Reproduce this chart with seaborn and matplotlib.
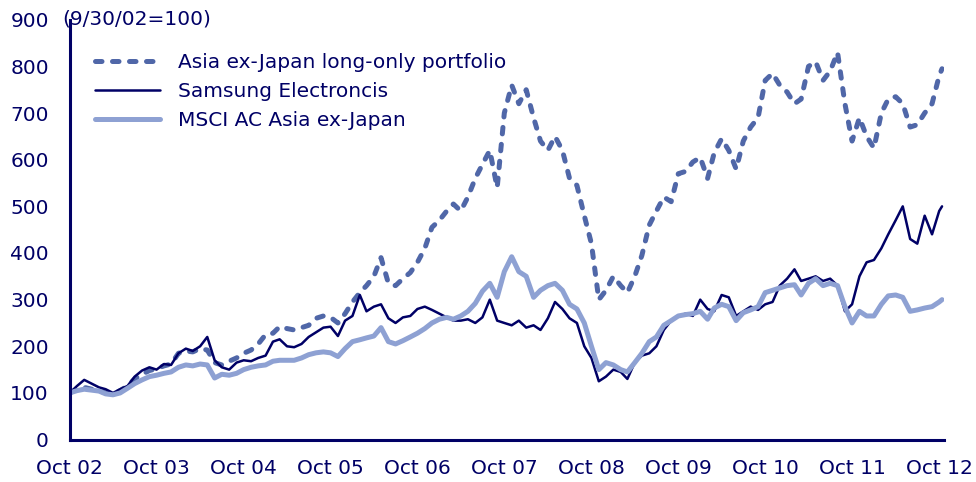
import matplotlib
matplotlib.use("Agg")
import matplotlib.pyplot as plt
import seaborn as sns
import pandas as pd

# month-end readings, Sep 02 .. Sep 12, plus last point mid Oct 12
portfolio = [100, 108, 112, 108, 105, 100, 98, 105, 115, 130, 140, 148,
             152, 158, 162, 185, 190, 188, 195, 192, 165, 160, 168, 175,
             185, 192, 205, 225, 228, 242, 238, 235, 240, 245, 260, 265,
             262, 250, 270, 295, 315, 330, 350, 390, 335, 330, 345, 358,
             380, 410, 455, 470, 490, 505, 490, 520, 560, 590, 620, 540,
             700, 760, 720, 750, 690, 640, 620, 650, 620, 560, 545, 480,
             420, 300, 320, 350, 330, 315, 350, 395, 460, 490, 520, 510,
             570, 575, 595, 605, 560, 615, 645, 620, 580, 640, 670, 690,
             770, 785, 760, 745, 720, 730, 800, 810, 770, 790, 830, 720,
             640, 690, 650, 625, 700, 730, 735, 720, 670, 675, 700, 720,
             780, 795]
samsung = [100, 115, 128, 120, 112, 108, 100, 108, 115, 135, 148, 155,
           150, 162, 160, 185, 195, 190, 200, 220, 170, 155, 150, 165,
           170, 168, 175, 180, 210, 215, 200, 198, 205, 220, 230, 240,
           242, 222, 255, 265, 310, 275, 285, 290, 260, 250, 262, 265,
           280, 285, 278, 270, 262, 255, 255, 258, 250, 262, 300, 255,
           250, 245, 255, 240, 245, 235, 260, 295, 280, 260, 250, 200,
           175, 125, 135, 150, 145, 130, 165, 180, 185, 200, 235, 255,
           265, 270, 265, 300, 280, 275, 310, 305, 265, 275, 285, 278,
           290, 295, 330, 345, 365, 340, 345, 350, 340, 345, 330, 275,
           290, 350, 380, 385, 410, 440, 470, 500, 430, 420, 480, 440,
           490, 500]
msci = [100, 105, 108, 106, 104, 98, 96, 100, 110, 120, 128, 135,
        138, 142, 145, 155, 160, 158, 162, 160, 132, 140, 138, 142,
        150, 155, 158, 160, 168, 170, 170, 170, 175, 182, 186, 188,
        186, 178, 195, 210, 214, 218, 222, 240, 210, 205, 212, 220,
        228, 238, 250, 258, 262, 258, 265, 275, 292, 318, 335, 305,
        360, 392, 360, 350, 305, 320, 330, 335, 320, 290, 280, 250,
        200, 150, 165, 160, 150, 145, 165, 185, 210, 220, 245, 255,
        265, 268, 270, 275, 258, 282, 290, 285, 255, 272, 278, 285,
        315, 320, 325, 330, 332, 310, 335, 345, 330, 335, 330, 285,
        250, 275, 265, 265, 290, 308, 310, 305, 275, 278, 282, 285,
        295, 300]
labels = ["Asia ex-Japan long-only portfolio", "Samsung Electroncis",
          "MSCI AC Asia ex-Japan"]
tick_labels = ["Oct 02", "Oct 03", "Oct 04", "Oct 05", "Oct 06", "Oct 07",
               "Oct 08", "Oct 09", "Oct 10", "Oct 11", "Oct 12"]

dates = list(pd.date_range("2002-09-30", periods=121, freq="ME")) + [pd.Timestamp("2012-10-12")]
df = pd.DataFrame({"date": dates, "portfolio": portfolio,
                   "samsung": samsung, "msci": msci})

navy = "#000066"
sns.set_style("white")
plt.rcParams["font.family"] = ["DejaVu Sans"]

fig = plt.figure(figsize=(9.76, 4.82), dpi=100)
ax = fig.add_axes([0.0714, 0.088, 0.896, 0.871])

sns.lineplot(data=df, x="date", y="portfolio", ax=ax, color="#5067A8",
             linewidth=3.6, label=labels[0], dash_capstyle="round")
ax.lines[-1].set_dashes((1.3, 2.1))
sns.lineplot(data=df, x="date", y="samsung", ax=ax, color=navy,
             linewidth=1.8, label=labels[1])
sns.lineplot(data=df, x="date", y="msci", ax=ax, color="#8EA1D3",
             linewidth=3.6, label=labels[2], solid_capstyle="round")

ax.set_ylim(0, 900)
ax.set_yticks(range(0, 901, 100))
ax.set_xlim(pd.Timestamp("2002-09-30"), pd.Timestamp("2012-10-21"))
ax.set_xticks(pd.date_range("2002-09-30", periods=11, freq="12ME"))
ax.set_xticklabels(tick_labels)
ax.set_xlabel("")
ax.set_ylabel("")

for side in ["top", "right"]:
    ax.spines[side].set_visible(False)
for side in ["left", "bottom"]:
    ax.spines[side].set_color(navy)
    ax.spines[side].set_linewidth(2.2)
ax.tick_params(axis="both", colors=navy, labelsize=14.5, direction="out",
               length=5, width=1.8, labelcolor=navy)
ax.tick_params(axis="y", pad=10)
ax.tick_params(axis="x", pad=9)

fig.text(62 / 976, 1 - 19 / 482, "(9/30/02=100)", color=navy, fontsize=14.5,
         va="center", ha="left")

leg = ax.legend(loc="upper left", bbox_to_anchor=(0.02, 0.94), frameon=False,
                fontsize=14.5, handlelength=3.2, handletextpad=0.9,
                labelspacing=0.5, borderaxespad=0)
for t in leg.get_texts():
    t.set_color(navy)

fig.savefig("out.png", dpi=100)
